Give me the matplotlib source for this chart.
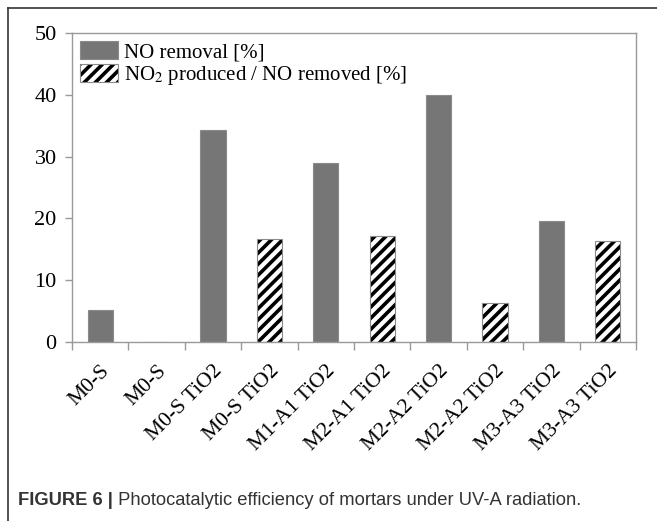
import matplotlib.pyplot as plt
import numpy as np

labels = ['M0-S', 'M0-S', 'M0-S TiO2', 'M0-S TiO2', 'M1-A1 TiO2', 'M2-A1 TiO2',
          'M2-A2 TiO2', 'M2-A2 TiO2', 'M3-A3 TiO2', 'M3-A3 TiO2']
no_removal = [5.1, 34.3, 29.0, 39.9, 19.6]
no2_ratio = [0.0, 16.7, 17.2, 6.3, 16.3]

plt.rcParams['font.family'] = ['Liberation Serif', 'DejaVu Serif']
plt.rcParams['mathtext.fontset'] = 'stix'
plt.rcParams['hatch.linewidth'] = 2.6

fig = plt.figure(figsize=(6.57, 5.21), dpi=100)
ax = fig.add_axes([0.1096, 0.3436, 0.8584, 0.5931])

x = np.arange(len(labels))
b1 = ax.bar(x[0::2], no_removal, width=0.45, color='#767676', edgecolor='#8a8a8a',
            linewidth=0.8)
# hatch takes the edge colour, so draw the outline separately
b2 = ax.bar(x[1::2], no2_ratio, width=0.45, color='white', edgecolor='black',
            hatch='///', linewidth=0)
b2o = ax.bar(x[1::2], no2_ratio, width=0.45, fill=False, edgecolor='#8a8a8a',
             linewidth=0.8)

ax.set_xlim(-0.5, len(labels) - 0.5)
ax.set_ylim(0, 50)
ax.set_yticks([0, 10, 20, 30, 40, 50])
ax.set_xticks(x)
ax.set_xticks(np.arange(-0.5, len(labels), 1), minor=True)
ax.set_xticklabels(labels, rotation=45, ha='right', rotation_mode='anchor', fontsize=15.5)
ax.tick_params(axis='x', which='major', length=0, pad=14)
ax.tick_params(axis='x', which='minor', length=6, color='#999999', width=1)
ax.tick_params(axis='y', length=5, color='#999999', width=1, labelsize=16, pad=6)
for s in ax.spines.values():
    s.set_color('#999999')
    s.set_linewidth(1)

ax.legend([b1[0], (b2[0], b2o[0])],
          ['NO removal [%]', 'NO$_2$ produced / NO removed [%]'],
          loc='upper left', bbox_to_anchor=(0, 1), frameon=False, fontsize=15,
          handlelength=1.8, handleheight=0.9, borderaxespad=0.2, borderpad=0.2,
          labelspacing=0.1, handletextpad=0.3)

# figure frame (top and left)
fig.add_artist(plt.Line2D([8 / 657, 8 / 657], [0, 1 - 8 / 521], color='#333333', lw=1.2))
fig.add_artist(plt.Line2D([8 / 657, 1], [1 - 8 / 521, 1 - 8 / 521], color='#333333', lw=1.2))

t1 = fig.text(18 / 657, 1 - 505 / 521, 'FIGURE 6 |', fontsize=13.2, fontweight='bold',
              family='Liberation Sans', color='#333333')
ax.annotate(' Photocatalytic efficiency of mortars under UV-A radiation.',
            xy=(1, 0), xycoords=t1, va='bottom', ha='left', fontsize=13.2,
            family='Liberation Sans', color='#333333', annotation_clip=False)

fig.savefig('out.png', dpi=100)
